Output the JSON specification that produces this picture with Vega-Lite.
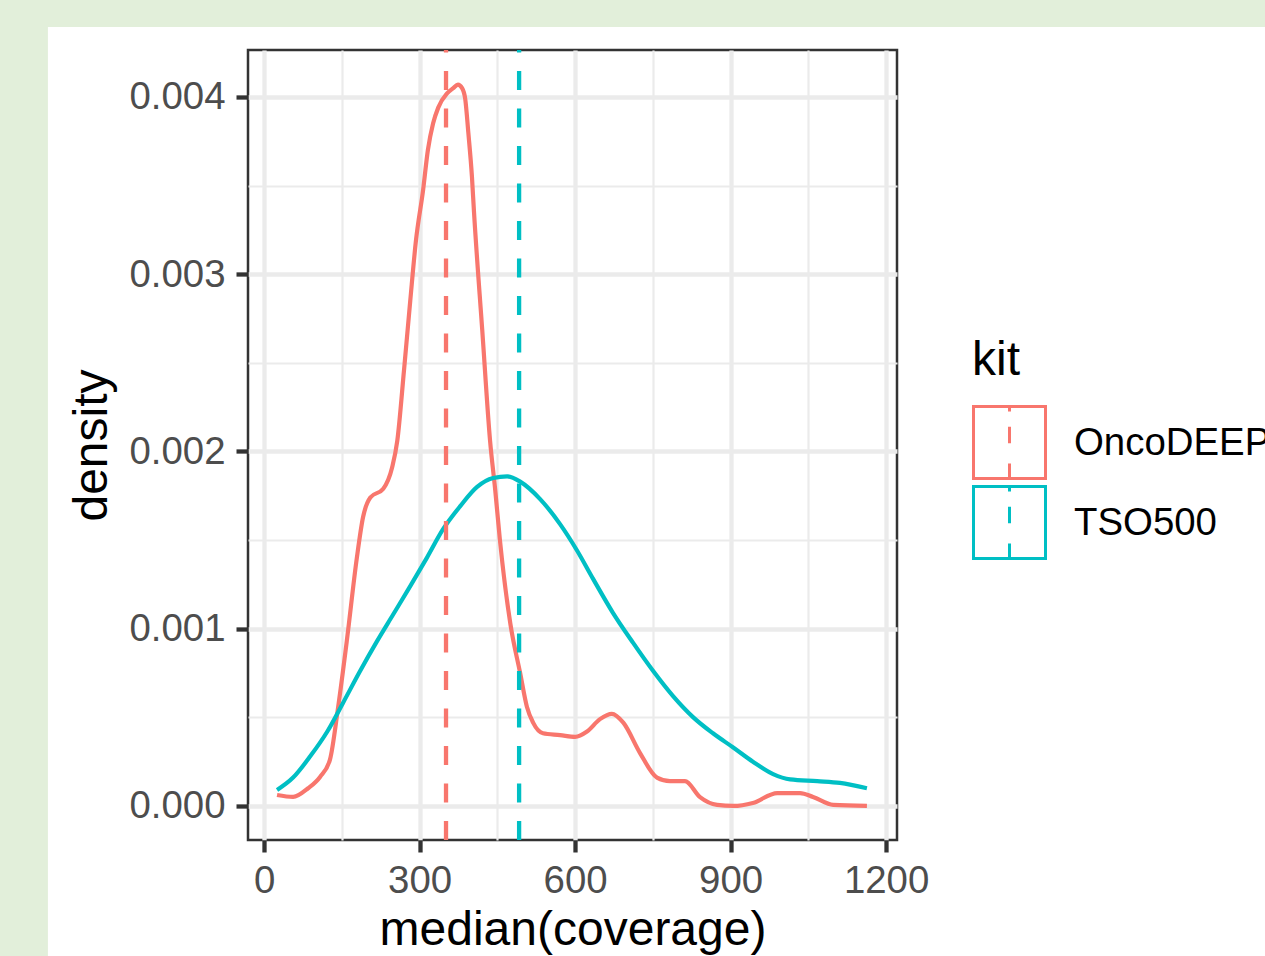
{
  "$schema": "https://vega.github.io/schema/vega-lite/v6.json",
  "width": 649,
  "height": 790,
  "autosize": {"type": "none"},
  "padding": {"left": 248, "top": 50, "right": 368, "bottom": 116},
  "background": "white",
  "config": {
    "font": "Liberation Sans",
    "view": {"stroke": "#333333", "strokeWidth": 2.5},
    "axis": {
      "domain": false,
      "grid": true,
      "gridColor": "#ebebeb",
      "tickColor": "#333333",
      "tickSize": 12,
      "tickWidth": 4.3,
      "labelColor": "#4d4d4d",
      "labelFontSize": 38.4,
      "titleFontSize": 48,
      "titleColor": "black",
      "titleFontWeight": "normal"
    }
  },
  "datasets": {
    "curves": [
      {"kit": "OncoDEEP", "coverage": 25, "density": 0.000062},
      {"kit": "OncoDEEP", "coverage": 56, "density": 0.000051},
      {"kit": "OncoDEEP", "coverage": 85, "density": 0.0001},
      {"kit": "OncoDEEP", "coverage": 108, "density": 0.000164},
      {"kit": "OncoDEEP", "coverage": 127, "density": 0.00026},
      {"kit": "OncoDEEP", "coverage": 143, "density": 0.00056},
      {"kit": "OncoDEEP", "coverage": 160, "density": 0.00094},
      {"kit": "OncoDEEP", "coverage": 179, "density": 0.0014},
      {"kit": "OncoDEEP", "coverage": 191, "density": 0.00163},
      {"kit": "OncoDEEP", "coverage": 205, "density": 0.00174},
      {"kit": "OncoDEEP", "coverage": 230, "density": 0.00179},
      {"kit": "OncoDEEP", "coverage": 247, "density": 0.00191},
      {"kit": "OncoDEEP", "coverage": 257, "density": 0.00206},
      {"kit": "OncoDEEP", "coverage": 270, "density": 0.00246},
      {"kit": "OncoDEEP", "coverage": 282, "density": 0.00285},
      {"kit": "OncoDEEP", "coverage": 293, "density": 0.00319},
      {"kit": "OncoDEEP", "coverage": 307, "density": 0.00348},
      {"kit": "OncoDEEP", "coverage": 316, "density": 0.0037},
      {"kit": "OncoDEEP", "coverage": 326, "density": 0.00385},
      {"kit": "OncoDEEP", "coverage": 336, "density": 0.00394},
      {"kit": "OncoDEEP", "coverage": 353, "density": 0.00402},
      {"kit": "OncoDEEP", "coverage": 365, "density": 0.00405},
      {"kit": "OncoDEEP", "coverage": 374, "density": 0.00407},
      {"kit": "OncoDEEP", "coverage": 382, "density": 0.00405},
      {"kit": "OncoDEEP", "coverage": 388, "density": 0.00399},
      {"kit": "OncoDEEP", "coverage": 394, "density": 0.0038},
      {"kit": "OncoDEEP", "coverage": 401, "density": 0.00355},
      {"kit": "OncoDEEP", "coverage": 405, "density": 0.00335},
      {"kit": "OncoDEEP", "coverage": 421, "density": 0.00268},
      {"kit": "OncoDEEP", "coverage": 436, "density": 0.00206},
      {"kit": "OncoDEEP", "coverage": 446, "density": 0.00178},
      {"kit": "OncoDEEP", "coverage": 455, "density": 0.0015},
      {"kit": "OncoDEEP", "coverage": 475, "density": 0.00103},
      {"kit": "OncoDEEP", "coverage": 494, "density": 0.00075},
      {"kit": "OncoDEEP", "coverage": 507, "density": 0.00056},
      {"kit": "OncoDEEP", "coverage": 519, "density": 0.00047},
      {"kit": "OncoDEEP", "coverage": 538, "density": 0.00041},
      {"kit": "OncoDEEP", "coverage": 571, "density": 0.0004},
      {"kit": "OncoDEEP", "coverage": 600, "density": 0.00039},
      {"kit": "OncoDEEP", "coverage": 623, "density": 0.00042},
      {"kit": "OncoDEEP", "coverage": 648, "density": 0.00049},
      {"kit": "OncoDEEP", "coverage": 671, "density": 0.00052},
      {"kit": "OncoDEEP", "coverage": 693, "density": 0.00047},
      {"kit": "OncoDEEP", "coverage": 725, "density": 0.0003},
      {"kit": "OncoDEEP", "coverage": 758, "density": 0.00016},
      {"kit": "OncoDEEP", "coverage": 783, "density": 0.00014},
      {"kit": "OncoDEEP", "coverage": 812, "density": 0.00014},
      {"kit": "OncoDEEP", "coverage": 841, "density": 0.00005},
      {"kit": "OncoDEEP", "coverage": 874, "density": 0.000006},
      {"kit": "OncoDEEP", "coverage": 905, "density": 0.0},
      {"kit": "OncoDEEP", "coverage": 943, "density": 0.000017},
      {"kit": "OncoDEEP", "coverage": 990, "density": 0.000073},
      {"kit": "OncoDEEP", "coverage": 1034, "density": 0.000073},
      {"kit": "OncoDEEP", "coverage": 1059, "density": 0.000051},
      {"kit": "OncoDEEP", "coverage": 1098, "density": 0.000006},
      {"kit": "OncoDEEP", "coverage": 1163, "density": 0.0},
      {"kit": "TSO500", "coverage": 25, "density": 0.00009},
      {"kit": "TSO500", "coverage": 56, "density": 0.00016},
      {"kit": "TSO500", "coverage": 89, "density": 0.00028},
      {"kit": "TSO500", "coverage": 122, "density": 0.00042},
      {"kit": "TSO500", "coverage": 152, "density": 0.00058},
      {"kit": "TSO500", "coverage": 185, "density": 0.00076},
      {"kit": "TSO500", "coverage": 218, "density": 0.00093},
      {"kit": "TSO500", "coverage": 249, "density": 0.00108},
      {"kit": "TSO500", "coverage": 282, "density": 0.00124},
      {"kit": "TSO500", "coverage": 314, "density": 0.0014},
      {"kit": "TSO500", "coverage": 345, "density": 0.00156},
      {"kit": "TSO500", "coverage": 378, "density": 0.00169},
      {"kit": "TSO500", "coverage": 411, "density": 0.0018},
      {"kit": "TSO500", "coverage": 442, "density": 0.00185},
      {"kit": "TSO500", "coverage": 469, "density": 0.00186},
      {"kit": "TSO500", "coverage": 494, "density": 0.00183},
      {"kit": "TSO500", "coverage": 533, "density": 0.00173},
      {"kit": "TSO500", "coverage": 571, "density": 0.00159},
      {"kit": "TSO500", "coverage": 604, "density": 0.00144},
      {"kit": "TSO500", "coverage": 635, "density": 0.00128},
      {"kit": "TSO500", "coverage": 673, "density": 0.00109},
      {"kit": "TSO500", "coverage": 712, "density": 0.00092},
      {"kit": "TSO500", "coverage": 751, "density": 0.00076},
      {"kit": "TSO500", "coverage": 789, "density": 0.00062},
      {"kit": "TSO500", "coverage": 828, "density": 0.0005},
      {"kit": "TSO500", "coverage": 866, "density": 0.00041},
      {"kit": "TSO500", "coverage": 905, "density": 0.00033},
      {"kit": "TSO500", "coverage": 943, "density": 0.00025},
      {"kit": "TSO500", "coverage": 982, "density": 0.00018},
      {"kit": "TSO500", "coverage": 1015, "density": 0.00015},
      {"kit": "TSO500", "coverage": 1067, "density": 0.00014},
      {"kit": "TSO500", "coverage": 1111, "density": 0.00013},
      {"kit": "TSO500", "coverage": 1163, "density": 0.0001}
    ],
    "medians": [
      {"kit": "OncoDEEP", "median": 351},
      {"kit": "TSO500", "median": 492}
    ]
  },
  "layer": [
    {
      "data": {"values": [{}]},
      "mark": {"type": "rect", "color": "#e2efda"},
      "encoding": {
        "x": {"datum": -520, "type": "quantitative"},
        "x2": {"datum": -417},
        "y": {"datum": 0.0046, "type": "quantitative"},
        "y2": {"datum": -0.0009}
      }
    },
    {
      "data": {"values": [{}]},
      "mark": {"type": "rect", "color": "#e2efda"},
      "encoding": {
        "x": {"datum": -520, "type": "quantitative"},
        "x2": {"datum": 1950},
        "y": {"datum": 0.0046, "type": "quantitative"},
        "y2": {"datum": 0.004395}
      }
    },
    {
      "data": {"name": "curves"},
      "mark": {"type": "line", "strokeWidth": 4.2, "interpolate": "monotone"},
      "encoding": {
        "x": {
          "field": "coverage",
          "type": "quantitative",
          "scale": {"domain": [-31, 1221], "nice": false, "zero": false},
          "axis": {
            "title": "median(coverage)",
            "grid": true,
            "values": [0, 150, 300, 450, 600, 750, 900, 1050, 1200],
            "format": "d",
            "labelExpr": "datum.value % 300 === 0 ? datum.label : ''",
            "gridWidth": {"condition": {"test": "datum.value % 300 === 0", "value": 4.3}, "value": 2.2},
            "tickOpacity": {"condition": {"test": "datum.value % 300 === 0", "value": 1}, "value": 0},
            "labelPadding": 10,
            "titlePadding": 7
          }
        },
        "y": {
          "field": "density",
          "type": "quantitative",
          "scale": {"domain": [-0.000192, 0.004265], "nice": false, "zero": false},
          "axis": {
            "title": "density",
            "grid": true,
            "values": [0, 0.0005, 0.001, 0.0015, 0.002, 0.0025, 0.003, 0.0035, 0.004],
            "format": ".3f",
            "labelExpr": "round(datum.value * 10000) % 10 === 0 ? datum.label : ''",
            "gridWidth": {"condition": {"test": "round(datum.value * 10000) % 10 === 0", "value": 4.3}, "value": 2.2},
            "tickOpacity": {"condition": {"test": "round(datum.value * 10000) % 10 === 0", "value": 1}, "value": 0},
            "labelPadding": 11,
            "titlePadding": 12
          }
        },
        "color": {
          "field": "kit",
          "type": "nominal",
          "scale": {"domain": ["OncoDEEP", "TSO500"], "range": ["#F8766D", "#00BFC4"]},
          "legend": {
            "orient": "none",
            "legendX": 724,
            "legendY": 287,
            "title": "kit",
            "titleFontSize": 48,
            "titleColor": "black",
            "titleFontWeight": "normal",
            "titlePadding": 20,
            "labelFontSize": 38.4,
            "labelColor": "black",
            "labelOffset": 27,
            "labelLimit": 0,
            "symbolType": "M-1,-1H1V1H-1Z M0,-1V-0.86 M0,-0.44V0.02 M0,0.58V1",
            "symbolSize": 5184,
            "symbolStrokeWidth": 3,
            "symbolFillColor": "transparent",
            "symbolDash": [],
            "rowPadding": -8,
            "padding": 0
          }
        }
      }
    },
    {
      "data": {"name": "medians"},
      "mark": {"type": "rule", "strokeWidth": 4.3, "strokeDash": [19, 18.5]},
      "encoding": {
        "x": {"field": "median", "type": "quantitative"},
        "y": {"datum": -0.000192, "type": "quantitative"},
        "y2": {"datum": 0.004265},
        "color": {"field": "kit", "type": "nominal"}
      }
    }
  ]
}
